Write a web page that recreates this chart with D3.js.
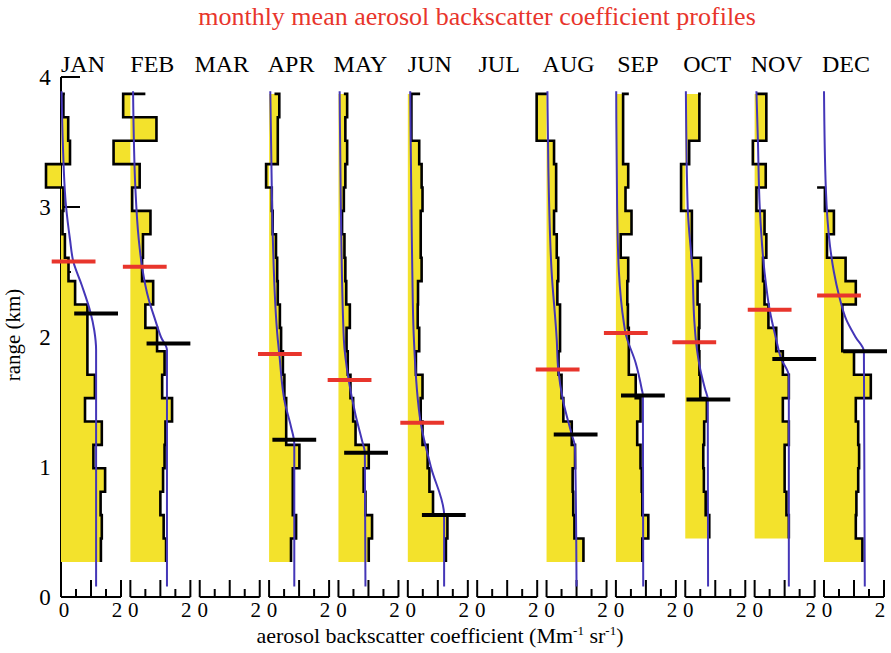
<!DOCTYPE html>
<meta charset="utf-8">
<title>monthly mean aerosol backscatter coefficient profiles</title>
<style>
  body { margin: 0; background: #fff; }
  svg text { font-family: "Liberation Serif", "DejaVu Serif", "Times New Roman", serif; }
</style>
<body>
<script src="https://cdn.jsdelivr.net/npm/d3@7"></script>
<script>

var months = ["JAN","FEB","MAR","APR","MAY","JUN","JUL","AUG","SEP","OCT","NOV","DEC"];

// range bins (km): lower edge of bin 0 and bin depth
var binBase = 0.27;
var binDepth = 0.18;

// step profile per month, bin 0 (bottom) .. bin 19 (top); null = no data
var profiles = [
  [1.33,1.36,1.32,1.47,1.08,1.36,0.80,1.13,0.88,0.88,0.88,0.47,0.25,0.13,0.05,0.08,-0.50,0.30,0.24,0.08],
  [1.19,1.11,1.00,1.09,1.14,1.17,1.39,1.06,1.14,0.89,0.50,0.76,0.39,0.42,0.67,0.06,0.31,-0.56,0.87,-0.24],
  null,
  [0.73,0.90,0.79,0.79,1.01,0.57,0.57,0.51,0.46,0.40,0.36,0.29,0.27,0.23,0.12,0.09,-0.10,0.29,0.29,0.34],
  [1.01,1.12,0.90,0.84,1.01,0.57,0.49,0.40,0.31,0.27,0.38,0.26,0.23,0.20,0.12,0.18,0.23,0.29,0.23,0.29],
  [1.27,1.32,0.84,0.72,0.66,0.49,0.43,0.49,0.27,0.38,0.33,0.34,0.46,0.43,0.43,0.49,0.46,0.38,0.12,0.12],
  null,
  [1.23,0.93,0.89,0.87,0.95,0.84,0.56,0.50,0.40,0.45,0.45,0.36,0.39,0.34,0.25,0.32,0.32,0.25,-0.33,-0.33],
  [0.88,1.08,0.88,0.86,0.82,0.71,0.82,0.66,0.43,0.43,0.40,0.38,0.41,0.16,0.52,0.32,0.41,0.24,0.24,0.24],
  [null,0.80,0.68,0.62,0.60,0.63,0.72,0.50,0.47,0.45,0.47,0.41,0.52,0.22,0.22,-0.14,-0.14,0.13,0.47,0.47],
  [null,1.14,1.06,1.00,1.00,1.14,0.94,1.14,0.94,0.72,0.46,0.33,0.28,0.39,0.33,0.06,0.37,-0.06,0.39,0.39],
  [1.28,1.06,1.08,1.14,1.17,1.14,1.06,1.56,1.00,0.61,0.61,1.06,0.72,0.10,0.33,0.03,null,null,null,null]
];

// value where the top of each outline starts
var caps = [0.13, 0.50, null, 0.18, 0.18, 0.41, null, 0.02, 0.43, 0.52, 0.06, -0.23];

// fitted (blue) profiles: [range km, value]
var fits = [
  [[3.89,0.02],[3.5,0.06],[3.0,0.17],[2.75,0.30],[2.58,0.41],[2.4,0.69],[2.2,0.97],[2.05,1.11],[1.9,1.17],[0.08,1.17]],
  [[3.89,0.09],[3.13,0.17],[2.75,0.28],[2.54,0.39],[2.29,0.61],[2.13,0.83],[2.0,1.02],[1.9,1.22],[0.08,1.22]],
  null,
  [[3.89,0.04],[3.14,0.09],[2.8,0.12],[1.98,0.29],[1.87,0.34],[1.49,0.53],[1.31,0.73],[1.18,0.84],[0.08,0.84]],
  [[3.89,0.04],[3.0,0.08],[1.98,0.18],[1.67,0.34],[1.4,0.57],[1.2,0.79],[1.11,0.88],[0.08,0.90]],
  [[3.89,0.08],[3.0,0.12],[2.5,0.15],[2.0,0.20],[1.34,0.43],[1.0,0.77],[0.63,1.21],[0.08,1.21]],
  null,
  [[3.89,0.03],[3.3,0.06],[2.5,0.17],[1.98,0.34],[1.75,0.39],[1.5,0.56],[1.25,0.84],[1.15,0.95],[0.08,1.00]],
  [[3.89,0.01],[3.0,0.04],[2.5,0.10],[2.1,0.27],[2.03,0.32],[1.8,0.66],[1.6,0.86],[1.55,0.90],[0.08,0.91]],
  [[3.89,0.02],[3.0,0.08],[2.5,0.24],[2.13,0.30],[1.96,0.36],[1.75,0.50],[1.6,0.66],[1.52,0.75],[0.08,0.76]],
  [[3.89,0.06],[3.5,0.11],[3.0,0.17],[2.5,0.33],[2.21,0.50],[2.0,0.70],[1.83,0.89],[1.7,1.14],[0.08,1.14]],
  [[3.89,0.00],[3.15,0.06],[2.7,0.20],[2.5,0.33],[2.32,0.50],[2.13,0.75],[2.0,1.05],[1.89,1.33],[0.08,1.36]]
];

// horizontal markers: [range km, centre value]
var redMarks = [[2.58,0.42],[2.54,0.48],null,[1.87,0.36],[1.67,0.37],[1.34,0.48],null,[1.75,0.37],[2.03,0.33],[1.96,0.30],[2.21,0.50],[2.32,0.50]];
var blackMarks = [[2.18,1.17],[1.95,1.27],null,[1.21,0.84],[1.11,0.92],[0.63,1.20],null,[1.25,0.97],[1.55,0.90],[1.52,0.77],[1.83,1.32],[1.89,1.37]];
var markHalf = 0.73;

var xTicks = [0, 0.5, 1, 1.5, 2];
var xTickLabels = [0, 2];
var yTicks = [0, 0.5, 1, 1.5, 2, 2.5, 3, 3.5, 4];
var yTickLabels = [0, 1, 2, 3, 4];

var width = 891, height = 653;

var svg = d3.select("body").append("svg")
    .attr("width", width)
    .attr("height", height)
    .style("font-family", "'Liberation Serif', 'DejaVu Serif', serif");

var y = d3.scaleLinear().domain([0, 4]).range([597, 77]);
var panelX = d3.scaleLinear().domain([0, 11]).range([61, 824]);
var x = d3.scaleLinear().domain([0, 2]).range([0, 60]);

// title
svg.append("text")
  .attr("x", 477).attr("y", 25)
  .attr("text-anchor", "middle")
  .style("font-size", "26px")
  .style("fill", "#e8352c")
  .text("monthly mean aerosol backscatter coefficient profiles");

// y axis (only on the first panel)
var yAxis = svg.append("g");
yAxis.append("line")
  .attr("x1", panelX(0)).attr("x2", panelX(0))
  .attr("y1", y(0)).attr("y2", y(4))
  .attr("stroke", "#000").attr("stroke-width", 2);
yAxis.selectAll("line.tick").data(yTicks).enter().append("line")
  .attr("class", "tick")
  .attr("x1", panelX(0))
  .attr("x2", function(d) { return panelX(0) + (d % 1 === 0 ? 19 : 10); })
  .attr("y1", function(d) { return y(d); })
  .attr("y2", function(d) { return y(d); })
  .attr("stroke", "#000").attr("stroke-width", 2);
yAxis.selectAll("text").data(yTickLabels).enter().append("text")
  .attr("x", 45)
  .attr("y", function(d) { return y(d); })
  .attr("dy", "0.35em")
  .attr("text-anchor", "middle")
  .style("font-size", "23px")
  .text(function(d) { return d; });

svg.append("text")
  .attr("transform", "translate(20,335) rotate(-90)")
  .attr("text-anchor", "middle")
  .style("font-size", "21px")
  .text("range (km)");

var xLabel = svg.append("text")
  .attr("x", 440).attr("y", 643)
  .attr("text-anchor", "middle")
  .style("font-size", "22px");
xLabel.append("tspan").text("aerosol backscatter coefficient (Mm");
xLabel.append("tspan").attr("dy", -8).style("font-size", "13px").text("-1");
xLabel.append("tspan").attr("dy", 8).text(" sr");
xLabel.append("tspan").attr("dy", -8).style("font-size", "13px").text("-1");
xLabel.append("tspan").attr("dy", 8).text(")");

var area = d3.area()
  .x0(x(0))
  .x1(function(d) { return x(d[1]); })
  .y(function(d) { return y(d[0]); });

var stepLine = d3.line()
  .x(function(d) { return x(d[1]); })
  .y(function(d) { return y(d[0]); });

var fitLine = d3.line()
  .x(function(d) { return x(d[1]); })
  .y(function(d) { return y(d[0]); })
  .curve(d3.curveMonotoneY);

months.forEach(function(m, i) {
  var g = svg.append("g").attr("transform", "translate(" + panelX(i) + ",0)");

  // month name
  g.append("text")
    .attr("x", 22).attr("y", 72)
    .attr("text-anchor", "middle")
    .style("font-size", "24px")
    .text(m);

  // x axis
  g.append("line")
    .attr("x1", x(0)).attr("x2", x(2))
    .attr("y1", y(0)).attr("y2", y(0))
    .attr("stroke", "#000").attr("stroke-width", 2);
  g.selectAll("line.tick").data(xTicks).enter().append("line")
    .attr("class", "tick")
    .attr("x1", function(d) { return x(d); })
    .attr("x2", function(d) { return x(d); })
    .attr("y1", y(0))
    .attr("y2", function(d) { return y(0) - (d % 1 === 0 ? 17 : 8); })
    .attr("stroke", "#000").attr("stroke-width", 2);
  g.selectAll("text.xl").data(xTickLabels).enter().append("text")
    .attr("class", "xl")
    .attr("x", function(d) { return d === 0 ? x(d) + 3 : x(d) - 4; })
    .attr("y", 617)
    .attr("text-anchor", "middle")
    .style("font-size", "21px")
    .text(function(d) { return d; });

  var prof = profiles[i];
  if (!prof) return;

  // build step points from the top bin down
  var pts = [];
  for (var b = prof.length - 1; b >= 0; b--) {
    if (prof[b] === null) continue;
    var top = binBase + binDepth * (b + 1);
    var bot = binBase + binDepth * b;
    pts.push([top, prof[b]]);
    pts.push([bot, prof[b]]);
  }

  g.append("path")
    .attr("d", area(pts))
    .attr("fill", "#f3e22c");

  var outline = [[pts[0][0], caps[i]]].concat(pts);
  g.append("path")
    .attr("d", stepLine(outline))
    .attr("fill", "none")
    .attr("stroke", "#000")
    .attr("stroke-width", 2.6);

  g.append("path")
    .attr("d", fitLine(fits[i]))
    .attr("fill", "none")
    .attr("stroke", "#4436b8")
    .attr("stroke-width", 2);

  [[redMarks[i], "#e8352c"], [blackMarks[i], "#000"]].forEach(function(mk) {
    g.append("line")
      .attr("x1", x(mk[0][1] - markHalf))
      .attr("x2", x(mk[0][1] + markHalf))
      .attr("y1", y(mk[0][0]))
      .attr("y2", y(mk[0][0]))
      .attr("stroke", mk[1])
      .attr("stroke-width", 4);
  });
});

</script>
